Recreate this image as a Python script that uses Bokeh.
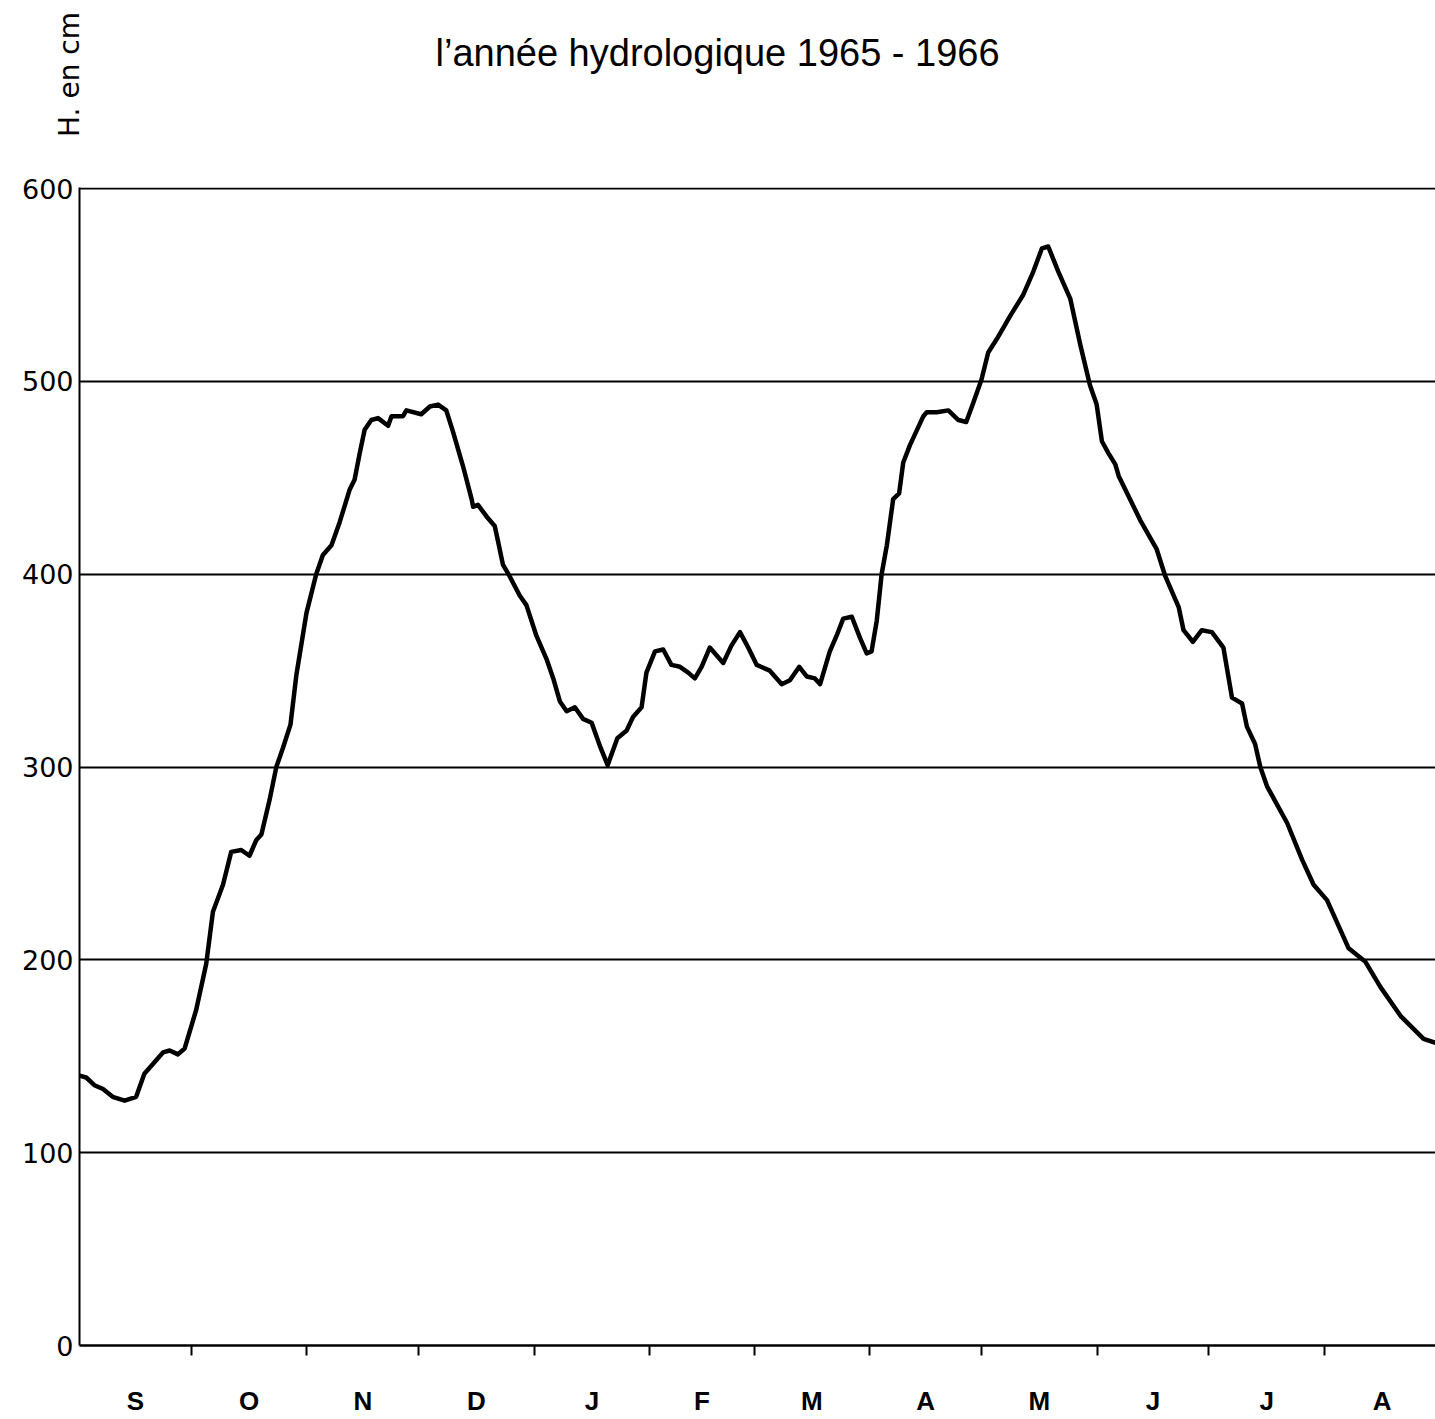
import numpy as np
from bokeh.plotting import figure
from bokeh.models import FixedTicker, Range1d, Label
from bokeh.embed import file_html
from bokeh.resources import INLINE

# ---- data ----
# day of the hydrological year (0 = 1 September 1965)
days = [0, 1.8, 4, 6.3, 8.9, 12.1, 15.2, 17.4, 19.7, 22.4, 24.2, 26.4, 28.2,
        31.3, 33.1, 34, 35.8, 38.5, 40.7, 43.4, 45.6, 47.4, 48.8, 51, 52.8,
        54.6, 56.6, 58.2, 60.9, 63.5, 65.3, 67.6, 69.8, 72.5, 73.8, 75.2,
        76.5, 78.3, 80.1, 82.8, 83.7, 86.8, 87.7, 91.7, 94, 96.2, 98.4,
        100.2, 102.9, 105.2, 105.6, 106.9, 109.2, 111.4, 112.3, 113.6, 115.4,
        118.1, 119.9, 122.6, 125.3, 127.1, 128.9, 130.7, 132.9, 135.1, 137.4,
        139.6, 141.7, 144.3, 146.8, 148.5, 150.8, 152.1, 154.4, 156.6, 158.8,
        161.1, 163.3, 165.1, 166.9, 169.1, 172.7, 174.9, 177.2, 179.4, 181.7,
        185.2, 188.4, 190.6, 193.1, 195.1, 197.3, 198.7, 201.3, 203.1, 204.9,
        207.2, 209.4, 211.2, 212.5, 213.9, 215.2, 216.6, 218.3, 219.9, 221,
        222.8, 226.4, 227.3, 230, 233.1, 235.8, 237.9, 239.8, 242, 243.8,
        246.1, 249.7, 253.2, 255.9, 258.2, 259.9, 262.6, 265.8, 268.5, 271.1,
        272.9, 274.3, 276, 277.9, 278.8, 284.6, 289, 291.3, 294.9, 296.2,
        298.7, 301.1, 303.8, 306.9, 309.2, 311.9, 313.2, 315.4, 316.8, 318.6,
        324, 328, 331.1, 334.7, 340.5, 345, 349, 354.4, 360.6, 363.8]
# water level, H in cm
level = [140, 139, 135, 133, 129, 127, 129, 141, 146, 152, 153, 151, 154,
         174, 190, 198, 225, 239, 256, 257, 254, 262, 265, 283, 300,
         310, 322, 348, 380, 400, 410, 415, 427, 444, 449, 463,
         475, 480, 481, 477, 482, 482, 485, 483, 487, 488, 485,
         474, 456, 439, 435, 436, 430, 425, 417, 405, 399,
         389, 384, 368, 356, 346, 334, 329, 331, 325, 323,
         311, 301, 315, 319, 326, 331, 349, 360, 361, 353,
         352, 349, 346, 352, 362, 354, 363, 370, 362, 353,
         350, 343, 345, 352, 347, 346, 343, 360, 368, 377,
         378, 367, 359, 360, 376, 400, 415, 439, 442, 458,
         467, 482, 484, 484, 485, 480, 479, 489, 501, 515,
         522, 534, 545, 557, 569, 570, 557, 543, 519, 498,
         488, 469, 463, 457, 451, 428, 413, 399, 383, 371,
         365, 371, 370, 362, 336, 333, 321, 312, 300, 290,
         271, 252, 239, 231, 206, 199, 186, 171, 159, 157]

month_letters = ["S", "O", "N", "D", "J", "F", "M", "A", "M", "J", "J", "A"]
month_lengths = [30, 31, 30, 31, 31, 28, 31, 30, 31, 30, 31, 31]
y_ticks = [0, 100, 200, 300, 400, 500, 600]

title_text = "l\u2019année hydrologique 1965 - 1966"
y_label = "H. en cm"

# ---- derived tick positions ----
starts = np.concatenate([[0], np.cumsum(month_lengths)[:-1]])
month_bounds = [float(s) for s in starts[1:]]
month_mids = [float(s + l / 2) for s, l in zip(starts, month_lengths)]

# ---- layout ----
W, H = 1435, 1419
B_LEFT, B_TOP, B_BOTTOM = 79, 187, 74
X_END, Y_END = 363.8, 600.6
px_day = (W - B_LEFT) / X_END
px_cm = (H - B_TOP - B_BOTTOM) / Y_END


def to_x(px):
    return (px - B_LEFT) / px_day


def to_y(py):
    return Y_END + (B_TOP - py) / px_cm


p = figure(width=W, height=H, output_backend="svg", toolbar_location=None,
           x_range=Range1d(0, X_END), y_range=Range1d(0, Y_END),
           min_border_left=B_LEFT, min_border_right=0, min_border_top=B_TOP,
           min_border_bottom=B_BOTTOM, background_fill_color="white",
           border_fill_color="white")
p.outline_line_color = None

# grid
p.xgrid.grid_line_color = None
p.ygrid.ticker = FixedTicker(ticks=y_ticks)
p.ygrid.grid_line_color = "black"
p.ygrid.grid_line_width = 1.8

# x axis
xa = p.xaxis[0]
xa.ticker = FixedTicker(ticks=month_mids, minor_ticks=month_bounds)
xa.major_label_overrides = {m: t for m, t in zip(month_mids, month_letters)}
xa.major_tick_out = 0
xa.major_tick_in = 0
xa.minor_tick_out = 10
xa.minor_tick_in = 0
xa.minor_tick_line_width = 2
xa.minor_tick_line_color = "black"
xa.axis_line_width = 2.5
xa.axis_line_color = "black"
xa.major_label_text_font = "Liberation Sans"
xa.major_label_text_font_style = "bold"
xa.major_label_text_font_size = "26px"
xa.major_label_text_color = "black"
xa.major_label_standoff = 30

# y axis
ya = p.yaxis[0]
ya.ticker = FixedTicker(ticks=y_ticks)
ya.major_tick_out = 0
ya.major_tick_in = 0
ya.minor_tick_out = 0
ya.minor_tick_in = 0
ya.axis_line_width = 2
ya.axis_line_color = "black"
ya.major_label_text_font = "DejaVu Sans"
ya.major_label_text_font_size = "27px"
ya.major_label_text_color = "black"
ya.major_label_standoff = 6

# curve
p.line(days, level, line_width=4.5, line_color="black", line_join="round")

# title (in the top panel, so it is not clipped by the frame)
p.add_layout(Label(x=to_x(435), y=to_y(52), text=title_text,
                   text_align="left", text_baseline="middle",
                   text_font="Liberation Sans", text_font_size="38px",
                   text_color="black"), "above")

# vertical unit label above the y axis
p.add_layout(Label(x=to_x(69), y=to_y(74), text=y_label, angle=np.pi / 2,
                   text_align="center", text_baseline="middle",
                   text_font="DejaVu Sans", text_font_size="28px",
                   text_color="black"), "above")

open("out.html", "w").write(file_html(p, INLINE))
